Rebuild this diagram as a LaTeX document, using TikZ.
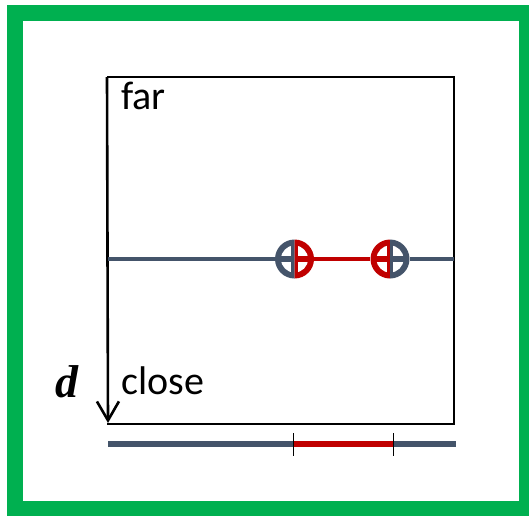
\documentclass[tikz,border=0pt]{standalone}
\usepackage{fontspec}
\setmainfont{Carlito}
\newfontfamily\serifd{Liberation Serif}
\usetikzlibrary{arrows.meta}
\definecolor{lgray}{HTML}{44546A}
\definecolor{lred}{HTML}{C00000}
\definecolor{lgreen}{HTML}{00B050}
\begin{document}
\begin{tikzpicture}[x=1pt,y=-1pt,
  boxline/.style={draw=black,line width=2pt},
  axisline/.style={draw=black,line width=2.6pt,-{Straight Barb[length=19pt,width=22pt,line width=2.6pt]}},
  midg/.style={draw=lgray,line width=4pt},
  midr/.style={draw=lred,line width=4pt},
  botg/.style={draw=lgray,line width=5.5pt},
  botr/.style={draw=lred,line width=5.5pt},
  tick/.style={draw=black,line width=1pt},
  lbl/.style={inner sep=0pt,anchor=base west},
  splitmark/.pic={
    \fill[#1] (0,-19.5) arc[start angle=-90,end angle=-270,radius=19.5] -- cycle;
    \fill[\pgfkeysvalueof{/tikz/rightcol}] (0,-19.5) arc[start angle=-90,end angle=90,radius=19.5] -- cycle;
    \begin{scope}
      \clip (0,0) circle[radius=13.5];
      \fill[white] (3.2,3.2) rectangle (14,14);
      \fill[white] (-3.2,3.2) rectangle (-14,14);
      \fill[white] (3.2,-3.2) rectangle (14,-14);
      \fill[white] (-3.2,-3.2) rectangle (-14,-14);
    \end{scope}
  }]
\pgfkeyssetvalue{/tikz/rightcol}{lred}
\useasboundingbox (0,0) rectangle (529,516);
\fill[lgreen] (7,5) rectangle (529,516);
\fill[white] (23,21) rectangle (519,501);
% box
\coordinate (tl) at (107,77);
\coordinate (tr) at (454,77);
\coordinate (br) at (454,424);
\coordinate (bl) at (107,424);
\coordinate (tip) at (108,423);
\draw[boxline] (tl) -- (tr) -- (br) -- (bl);
\draw[axisline] (tl) -- (tip);
% middle line
\coordinate (ml) at (108,259);
\coordinate (mr) at (454,259);
\node[circle,minimum size=39pt,inner sep=0pt] (c1) at (294.5,259) {};
\node[circle,minimum size=39pt,inner sep=0pt] (c2) at (390,259) {};
\draw[midg] (ml) -- (c1.west);
\draw[midr] (c1.east) -- (c2.west);
\draw[midg] (c2.east) -- (mr);
\pgfkeyssetvalue{/tikz/rightcol}{lred}
\pic at (c1) {splitmark=lgray};
\pgfkeyssetvalue{/tikz/rightcol}{lgray}
\pic at (c2) {splitmark=lred};
% bottom line
\coordinate (b1) at (108,444);
\coordinate (b2) at (293,444);
\coordinate (b3) at (393,444);
\coordinate (b4) at (456,444);
\draw[botg] (b1) -- (b2);
\draw[botr] (b2) -- (b3);
\draw[botg] (b3) -- (b4);
\coordinate (k1a) at (293,433);
\coordinate (k1b) at (293,456);
\coordinate (k2a) at (393,433);
\coordinate (k2b) at (393,456);
\draw[tick] (k1a) -- (k1b);
\draw[tick] (k2a) -- (k2b);
% labels
\node[lbl,font=\fontsize{40}{48}\selectfont] (far) at (121,110) {far};
\node[lbl,font=\fontsize{40}{48}\selectfont] (close) at (121,394) {close};
\node[lbl,font=\serifd\bfseries\itshape\fontsize{46}{52}\selectfont] (d) at (55,397) {d};
\end{tikzpicture}
\end{document}
